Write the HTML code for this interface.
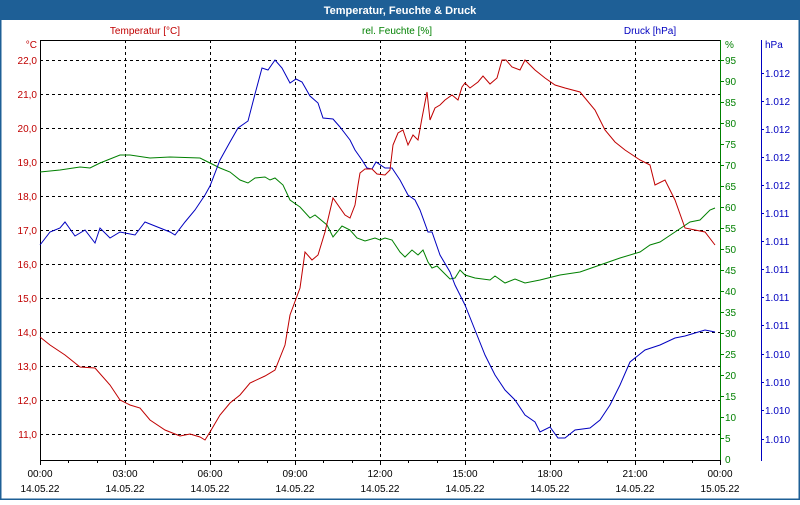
<!DOCTYPE html>
<html><head><meta charset="utf-8"><style>
body{margin:0;width:800px;height:500px;overflow:hidden;background:#fff;font-family:"Liberation Sans",sans-serif}
</style></head><body>
<svg width="800" height="500" xmlns="http://www.w3.org/2000/svg" font-family="Liberation Sans, sans-serif" font-size="10">
<rect x="0" y="0" width="800" height="500" fill="#fff"/>
<rect x="0" y="0" width="800" height="20" fill="#1e5f96"/>
<rect x="0.5" y="0.5" width="799" height="499" fill="none" stroke="#1e5f96" stroke-width="2"/>
<text x="400" y="14" text-anchor="middle" fill="#fff" font-weight="bold" font-size="11">Temperatur, Feuchte &amp; Druck</text>
<text x="145" y="34" text-anchor="middle" fill="#c00000">Temperatur [°C]</text>
<text x="397" y="34" text-anchor="middle" fill="#008000">rel. Feuchte [%]</text>
<text x="650" y="34" text-anchor="middle" fill="#0000c0">Druck [hPa]</text>
<g stroke="#000" stroke-dasharray="3,3" stroke-width="1">
<line x1="125.5" y1="40" x2="125.5" y2="460"/><line x1="210.5" y1="40" x2="210.5" y2="460"/><line x1="295.5" y1="40" x2="295.5" y2="460"/><line x1="380.5" y1="40" x2="380.5" y2="460"/><line x1="465.5" y1="40" x2="465.5" y2="460"/><line x1="550.5" y1="40" x2="550.5" y2="460"/><line x1="635.5" y1="40" x2="635.5" y2="460"/>
<line x1="40" y1="60.5" x2="720" y2="60.5"/><line x1="40" y1="94.5" x2="720" y2="94.5"/><line x1="40" y1="128.5" x2="720" y2="128.5"/><line x1="40" y1="162.5" x2="720" y2="162.5"/><line x1="40" y1="196.5" x2="720" y2="196.5"/><line x1="40" y1="230.5" x2="720" y2="230.5"/><line x1="40" y1="264.5" x2="720" y2="264.5"/><line x1="40" y1="298.5" x2="720" y2="298.5"/><line x1="40" y1="332.5" x2="720" y2="332.5"/><line x1="40" y1="366.5" x2="720" y2="366.5"/><line x1="40" y1="400.5" x2="720" y2="400.5"/><line x1="40" y1="434.5" x2="720" y2="434.5"/>
</g>
<line x1="40" y1="40.5" x2="720" y2="40.5" stroke="#000"/>
<line x1="40.5" y1="40" x2="40.5" y2="461" stroke="#000"/>
<line x1="40" y1="460.5" x2="720" y2="460.5" stroke="#000"/>
<line x1="720.5" y1="40" x2="720.5" y2="461" stroke="#008000"/>
<line x1="761.5" y1="40" x2="761.5" y2="461" stroke="#0000c0"/>
<g stroke="#000"><line x1="40.5" y1="460" x2="40.5" y2="465"/><line x1="68.5" y1="460" x2="68.5" y2="463"/><line x1="97.5" y1="460" x2="97.5" y2="463"/><line x1="125.5" y1="460" x2="125.5" y2="465"/><line x1="153.5" y1="460" x2="153.5" y2="463"/><line x1="182.5" y1="460" x2="182.5" y2="463"/><line x1="210.5" y1="460" x2="210.5" y2="465"/><line x1="238.5" y1="460" x2="238.5" y2="463"/><line x1="267.5" y1="460" x2="267.5" y2="463"/><line x1="295.5" y1="460" x2="295.5" y2="465"/><line x1="323.5" y1="460" x2="323.5" y2="463"/><line x1="352.5" y1="460" x2="352.5" y2="463"/><line x1="380.5" y1="460" x2="380.5" y2="465"/><line x1="408.5" y1="460" x2="408.5" y2="463"/><line x1="437.5" y1="460" x2="437.5" y2="463"/><line x1="465.5" y1="460" x2="465.5" y2="465"/><line x1="493.5" y1="460" x2="493.5" y2="463"/><line x1="522.5" y1="460" x2="522.5" y2="463"/><line x1="550.5" y1="460" x2="550.5" y2="465"/><line x1="578.5" y1="460" x2="578.5" y2="463"/><line x1="607.5" y1="460" x2="607.5" y2="463"/><line x1="635.5" y1="460" x2="635.5" y2="465"/><line x1="663.5" y1="460" x2="663.5" y2="463"/><line x1="692.5" y1="460" x2="692.5" y2="463"/><line x1="720.5" y1="460" x2="720.5" y2="465"/></g>
<g text-anchor="middle" fill="#000">
<text x="40" y="477">00:00</text><text x="40" y="492">14.05.22</text>
<text x="125" y="477">03:00</text><text x="125" y="492">14.05.22</text>
<text x="210" y="477">06:00</text><text x="210" y="492">14.05.22</text>
<text x="295" y="477">09:00</text><text x="295" y="492">14.05.22</text>
<text x="380" y="477">12:00</text><text x="380" y="492">14.05.22</text>
<text x="465" y="477">15:00</text><text x="465" y="492">14.05.22</text>
<text x="550" y="477">18:00</text><text x="550" y="492">14.05.22</text>
<text x="635" y="477">21:00</text><text x="635" y="492">14.05.22</text>
<text x="720" y="477">00:00</text><text x="720" y="492">15.05.22</text>
</g>
<g text-anchor="end" fill="#c00000">
<text x="37" y="48">°C</text>
<text x="37" y="64">22,0</text><text x="37" y="98">21,0</text><text x="37" y="132">20,0</text><text x="37" y="166">19,0</text><text x="37" y="200">18,0</text><text x="37" y="234">17,0</text><text x="37" y="268">16,0</text><text x="37" y="302">15,0</text><text x="37" y="336">14,0</text><text x="37" y="370">13,0</text><text x="37" y="404">12,0</text><text x="37" y="438">11,0</text>
</g>
<g fill="#008000" stroke="none">
<text x="725" y="48">%</text>
<text x="725" y="64">95</text><text x="725" y="85">90</text><text x="725" y="106">85</text><text x="725" y="127">80</text><text x="725" y="148">75</text><text x="725" y="169">70</text><text x="725" y="190">65</text><text x="725" y="211">60</text><text x="725" y="232">55</text><text x="725" y="253">50</text><text x="725" y="274">45</text><text x="725" y="295">40</text><text x="725" y="316">35</text><text x="725" y="337">30</text><text x="725" y="358">25</text><text x="725" y="379">20</text><text x="725" y="400">15</text><text x="725" y="421">10</text><text x="725" y="442">5</text><text x="725" y="463">0</text>
</g>
<g stroke="#008000"><line x1="720" y1="60.5" x2="724" y2="60.5"/><line x1="720" y1="81.5" x2="724" y2="81.5"/><line x1="720" y1="102.5" x2="724" y2="102.5"/><line x1="720" y1="123.5" x2="724" y2="123.5"/><line x1="720" y1="144.5" x2="724" y2="144.5"/><line x1="720" y1="165.5" x2="724" y2="165.5"/><line x1="720" y1="186.5" x2="724" y2="186.5"/><line x1="720" y1="207.5" x2="724" y2="207.5"/><line x1="720" y1="228.5" x2="724" y2="228.5"/><line x1="720" y1="249.5" x2="724" y2="249.5"/><line x1="720" y1="270.5" x2="724" y2="270.5"/><line x1="720" y1="291.5" x2="724" y2="291.5"/><line x1="720" y1="312.5" x2="724" y2="312.5"/><line x1="720" y1="333.5" x2="724" y2="333.5"/><line x1="720" y1="354.5" x2="724" y2="354.5"/><line x1="720" y1="375.5" x2="724" y2="375.5"/><line x1="720" y1="396.5" x2="724" y2="396.5"/><line x1="720" y1="417.5" x2="724" y2="417.5"/><line x1="720" y1="438.5" x2="724" y2="438.5"/></g>
<g fill="#0000c0">
<text x="765" y="48">hPa</text>
<text x="765" y="77">1.012</text><text x="765" y="105">1.012</text><text x="765" y="133">1.012</text><text x="765" y="161">1.012</text><text x="765" y="189">1.012</text><text x="765" y="217">1.011</text><text x="765" y="245">1.011</text><text x="765" y="273">1.011</text><text x="765" y="301">1.011</text><text x="765" y="329">1.011</text><text x="765" y="358">1.010</text><text x="765" y="386">1.010</text><text x="765" y="414">1.010</text><text x="765" y="443">1.010</text>
</g>
<g stroke="#0000c0"><line x1="761" y1="73.5" x2="764" y2="73.5"/><line x1="761" y1="101.5" x2="764" y2="101.5"/><line x1="761" y1="129.5" x2="764" y2="129.5"/><line x1="761" y1="157.5" x2="764" y2="157.5"/><line x1="761" y1="185.5" x2="764" y2="185.5"/><line x1="761" y1="213.5" x2="764" y2="213.5"/><line x1="761" y1="241.5" x2="764" y2="241.5"/><line x1="761" y1="269.5" x2="764" y2="269.5"/><line x1="761" y1="297.5" x2="764" y2="297.5"/><line x1="761" y1="325.5" x2="764" y2="325.5"/><line x1="761" y1="354.5" x2="764" y2="354.5"/><line x1="761" y1="382.5" x2="764" y2="382.5"/><line x1="761" y1="410.5" x2="764" y2="410.5"/><line x1="761" y1="439.5" x2="764" y2="439.5"/></g>
<g fill="none" stroke-width="1">
<polyline stroke="#008000" points="40,172 60,170 80,167 90,168 100,163 120,155 130,155 150,158 170,157 200,158 210,163 220,168 230,172 240,180 248,183 255,178 265,177 270,180 275,178 283,185 290,200 300,207 310,218 315,215 327,225 333,237 342,226 350,230 357,238 365,241 375,238 380,240 385,238 392,240 400,252 405,257 412,250 418,255 423,250 428,262 432,268 437,266 445,274 450,279 455,278 460,270 465,275 475,278 490,280 495,276 505,283 515,279 525,283 540,280 560,275 580,272 600,265 620,258 640,252 650,245 660,242 675,232 690,222 700,220 710,210 715,208"/>
<polyline stroke="#0000c0" points="40,245 50,232 60,228 65,222 75,236 85,230 95,243 100,228 110,238 120,232 135,235 145,222 160,228 170,232 175,235 185,222 195,210 205,195 210,186 220,160 230,142 238,128 248,121 255,94 262,68 268,70 275,60 282,68 290,83 296,79 302,82 310,96 318,103 323,118 333,119 340,127 350,140 355,150 362,160 367,168 372,169 376,162 385,168 392,168 400,180 408,195 415,200 420,210 428,232 432,232 440,255 450,272 455,285 465,305 475,330 485,355 495,375 505,390 515,400 525,415 535,422 540,432 550,427 558,438 565,438 575,430 590,428 600,420 610,405 620,385 630,362 645,350 660,345 675,338 685,336 695,333 705,330 715,332"/>
<polyline stroke="#c00000" points="40,337 50,345 65,355 80,367 95,368 110,385 120,400 130,405 140,408 150,420 165,430 180,436 190,434 200,437 205,440 210,432 220,415 230,403 240,395 250,383 265,376 275,370 285,345 290,315 300,288 305,252 312,260 318,255 325,232 333,198 345,215 350,218 355,205 358,185 360,173 365,169 372,169 377,174 385,175 390,170 393,145 398,133 403,130 408,145 413,135 418,140 422,118 427,92 430,120 435,108 440,105 445,100 452,95 458,100 462,87 465,83 470,88 478,82 483,76 490,84 497,78 502,60 506,60 512,67 520,70 525,60 530,65 535,70 545,78 555,85 565,88 580,92 595,110 605,130 615,142 625,150 640,160 650,165 655,185 665,180 675,200 685,228 695,230 705,232 715,245"/>
</g>
</svg>
</body></html>
